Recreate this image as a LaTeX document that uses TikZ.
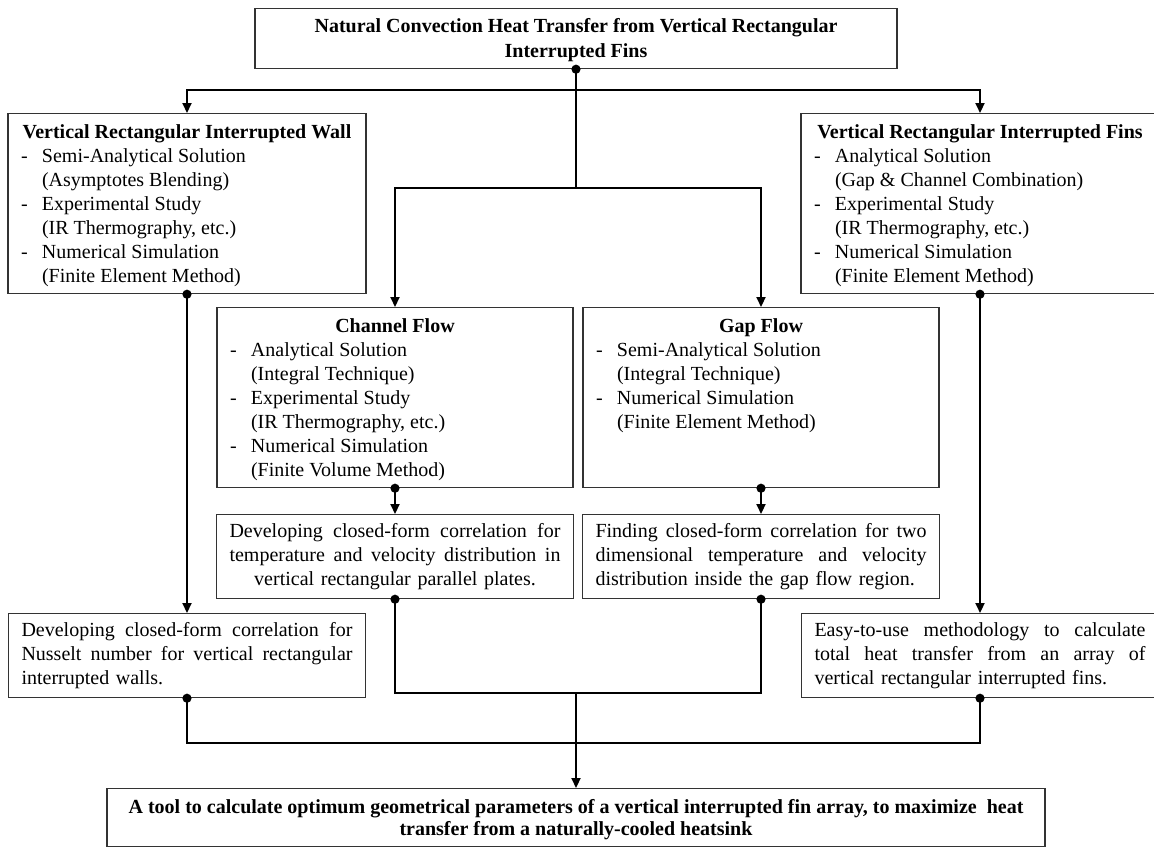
\documentclass[tikz,border=0pt]{standalone}
\usepackage{fontspec}
\setmainfont{Liberation Serif}
\usetikzlibrary{arrows.meta,positioning,calc}

% list item: dash, method, then its detail on the next line
\newcommand{\itm}[2]{\makebox[10.5pt][l]{-}#1\\\hspace*{10.5pt}#2}
\newcommand{\boxtitle}[1]{\hfill\makebox[0pt]{\textbf{#1}}\hfill\null}
\newcommand{\listbox}[2]{\parbox[c][90pt][t]{#1}{\vspace*{5.6pt}#2}}
\newcommand{\jline}[2][165.5pt]{{\spaceskip=0pt\xspaceskip=0pt\makebox[#1][s]{#2}}}

\begin{document}
\begin{tikzpicture}[x=0.5pt,y=-0.5pt,
	box/.style={rectangle, draw=black!80, line width=0.6pt, anchor=north, inner xsep=6.5pt, inner ysep=0pt, font=\fontsize{10}{12}\selectfont},
	res/.style={box, align=left, text width=165.5pt, minimum height=42pt},
	link/.style={line width=1pt},
	arr/.style={link, -{Triangle[width=4.5pt,length=5pt]}},
	dotlink/.style={link, {Circle[length=4.5pt]}-, shorten <=-2.25pt},
	dotarr/.style={link, {Circle[length=4.5pt]}-{Triangle[width=4.5pt,length=5pt]}, shorten <=-2.25pt},
	dotdot/.style={link, {Circle[length=4.5pt]}-{Circle[length=4.5pt]}, shorten <=-2.25pt, shorten >=-2.25pt}]
	\useasboundingbox (0,0) rectangle (1154,848);

	% Top
	\node[box, inner xsep=0pt, font=\fontsize{10}{12.5}\selectfont\bfseries] (title) at (576,8)
		{\parbox[c][30pt][t]{321pt}{\centering\vspace*{5.1pt}Natural Convection Heat Transfer from Vertical Rectangular\\Interrupted Fins}};

	% Wall and fins
	\node[box] (wall) at (187,113) {\listbox{166pt}{\boxtitle{Vertical Rectangular Interrupted Wall}\\
		\itm{Semi-Analytical Solution}{(Asymptotes Blending)}\\
		\itm{Experimental Study}{(IR Thermography, etc.)}\\
		\itm{Numerical Simulation}{(Finite Element Method)}}};
	\node[box] (fins) at (980,113) {\listbox{166pt}{\boxtitle{Vertical Rectangular Interrupted Fins}\\
		\itm{Analytical Solution}{(Gap \& Channel Combination)}\\
		\itm{Experimental Study}{(IR Thermography, etc.)}\\
		\itm{Numerical Simulation}{(Finite Element Method)}}};

	% Channel and gap
	\node[box] (chan) at (395,307) {\listbox{165pt}{\boxtitle{Channel Flow}\\
		\itm{Analytical Solution}{(Integral Technique)}\\
		\itm{Experimental Study}{(IR Thermography, etc.)}\\
		\itm{Numerical Simulation}{(Finite Volume Method)}}};
	\node[box] (gap) at (761,307) {\listbox{165pt}{\boxtitle{Gap Flow}\\
		\itm{Semi-Analytical Solution}{(Integral Technique)}\\
		\itm{Numerical Simulation}{(Finite Element Method)}}};

	% Correlations
	\node[res] (chanres) at (395,514) {\jline{Developing closed-form correlation for}\\
		\jline{temperature and velocity distribution in}\\
		\makebox[165.5pt]{vertical rectangular parallel plates.}};
	\node[res] (gapres) at (761,514) {\jline{Finding closed-form correlation for two}\\
		\jline{dimensional temperature and velocity}\\
		distribution inside the gap flow region.};
	\node[res] (wallres) at (187,613) {\jline{Developing closed-form correlation for}\\
		\jline{Nusselt number for vertical rectangular}\\
		interrupted walls.};
	\node[res] (finsres) at (980,613) {\jline{Easy-to-use methodology to calculate}\\
		\jline{total heat transfer from an array of}\\
		vertical rectangular interrupted fins.};

	% Bottom
	\node[box, inner xsep=0pt, font=\fontsize{10}{11}\selectfont\bfseries] (tool) at (576,788)
		{\parbox[c][29pt][t]{469pt}{\centering\vspace*{5.6pt}A tool to calculate optimum geometrical parameters of a vertical interrupted fin array, to maximize~ heat\\transfer from a naturally-cooled heatsink}};

	% Connectors
	\coordinate (s1) at (576,90);
	\coordinate (s2) at (576,188);
	\draw[dotlink] (title.south) -- (s2);
	\draw[arr] (s1) -| (wall.north);
	\draw[arr] (s1) -| (fins.north);
	\draw[arr] (s2) -| (chan.north);
	\draw[arr] (s2) -| (gap.north);

	\draw[dotarr] (wall.south) -- (wallres.north);
	\draw[dotarr] (fins.south) -- (finsres.north);
	\draw[dotarr] (chan.south) -- (chanres.north);
	\draw[dotarr] (gap.south) -- (gapres.north);

	\coordinate (m1) at (576,693);
	\coordinate (m2) at (576,743);
	\draw[dotdot] (chanres.south) |- (m1) -| (gapres.south);
	\draw[dotdot] (wallres.south) |- (m2) -| (finsres.south);
	\draw[arr] (m1) -- (tool.north);
\end{tikzpicture}
\end{document}
